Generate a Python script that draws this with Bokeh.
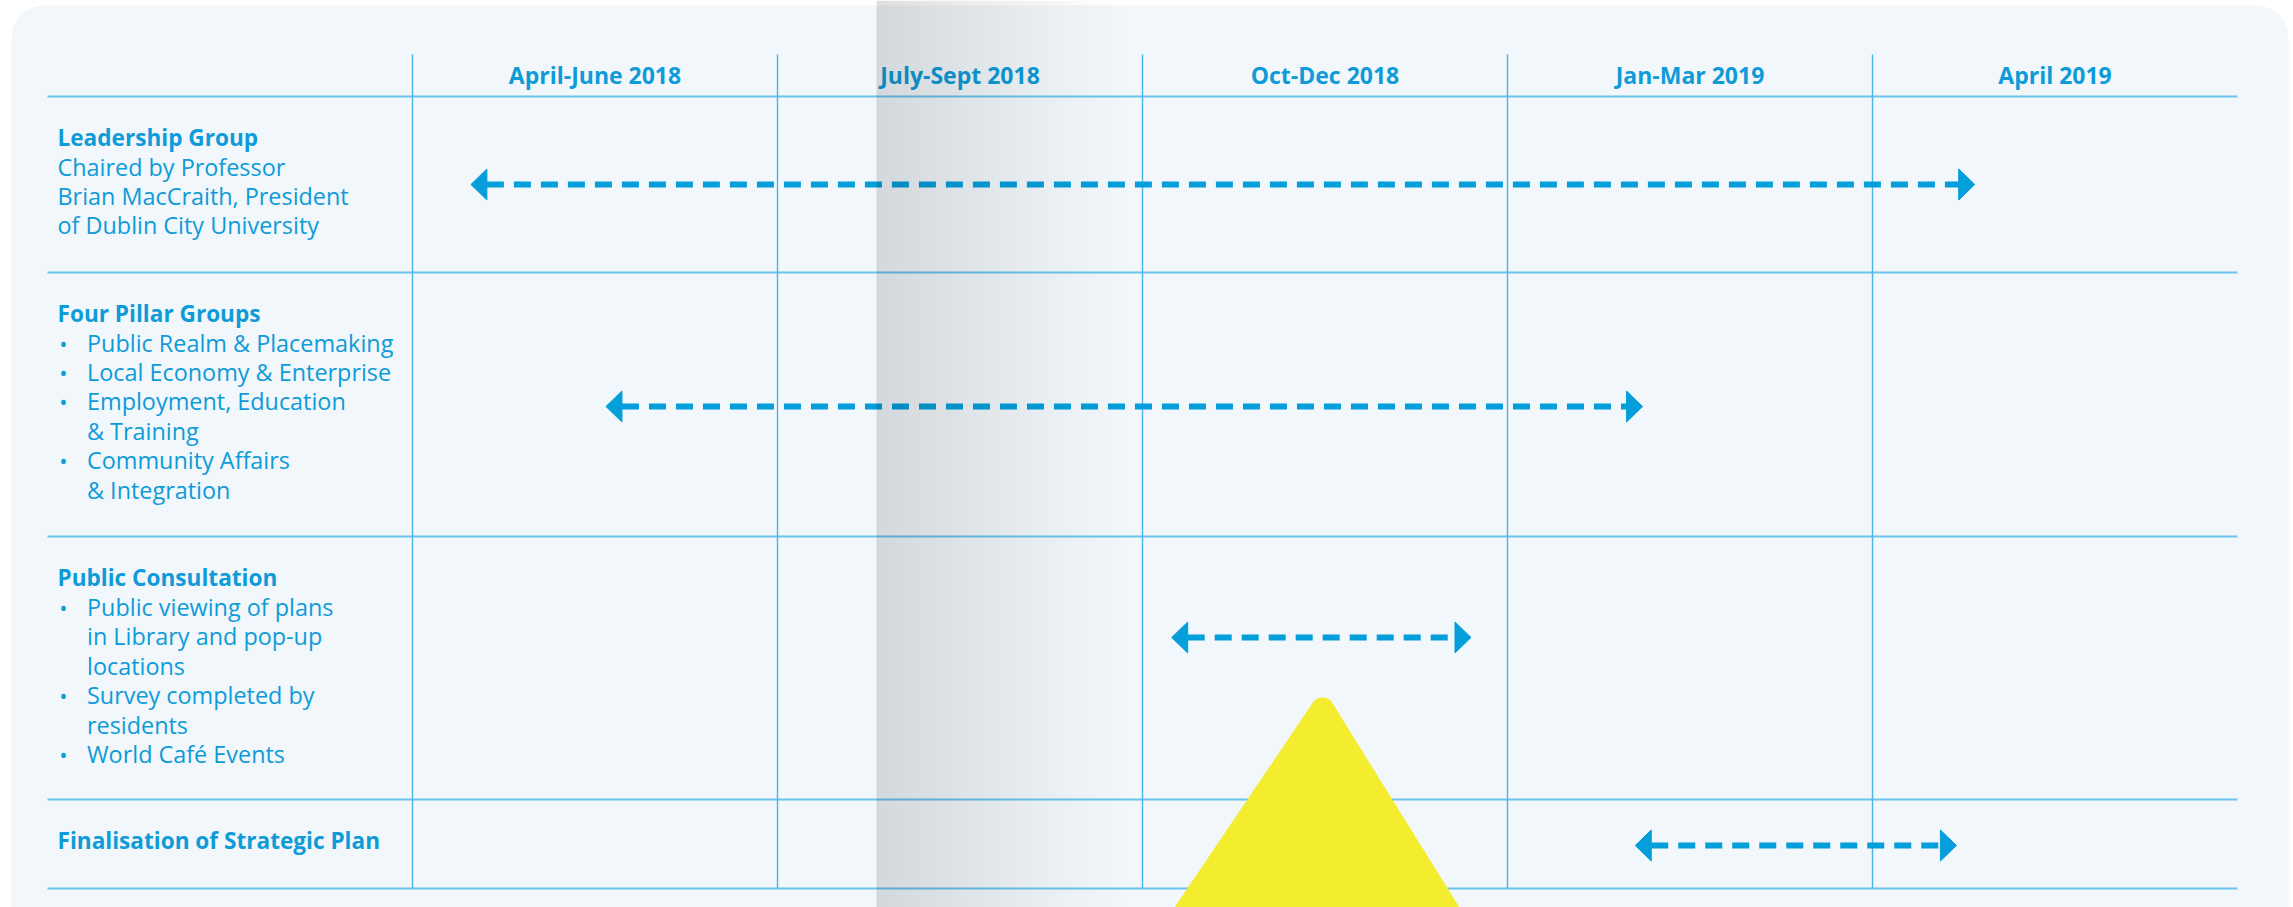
import numpy as np
from bokeh.plotting import figure
from bokeh.models import Range1d, BoxAnnotation
from bokeh.core.properties import value
from bokeh.embed import file_html
from bokeh.resources import INLINE

# ---------------- data ----------------
periods = ["April-June 2018", "July-Sept 2018", "Oct-Dec 2018", "Jan-Mar 2019", "April 2019"]
tasks = ["Leadership Group", "Four Pillar Groups", "Public Consultation",
         "Finalisation of Strategic Plan"]
# arrow spans, in period (quarter) units: 0 = start of April-June 2018
arrow_start = [0.16, 0.53, 2.08, 3.35]
arrow_end = [4.28, 3.37, 2.90, 4.23]
# details text per task: (is_bullet, text)
details_leadership = [(False, "Chaired by Professor"),
                      (False, "Brian MacCraith, President"),
                      (False, "of Dublin City University")]
details_pillars = [(True, "Public Realm & Placemaking"),
                   (True, "Local Economy & Enterprise"),
                   (True, "Employment, Education"),
                   (False, "& Training"),
                   (True, "Community Affairs"),
                   (False, "& Integration")]
details_consult = [(True, "Public viewing of plans"),
                   (False, "in Library and pop-up"),
                   (False, "locations"),
                   (True, "Survey completed by"),
                   (False, "residents"),
                   (True, "World Café Events")]
details_final = []
details = [details_leadership, details_pillars, details_consult, details_final]

# ---------------- layout / style ----------------
W, H = 2293, 907
X0, COLW = 412, 365     # pixel x of period 0, pixel width of a period column
def col(px):
    return (px - X0) / COLW

ROW_EDGES = [96, 272, 536, 799, 888]
HEAD_TOP = 54
TXT_SHIFT = -7.3
HEAD_BASE = 82 + TXT_SHIFT
TITLE_BASE = [v + TXT_SHIFT for v in (144, 320, 584.3, 847.3)]
LINE_H = 29.4
ARROW_Y = [184, 406, 637, 845]

BLUE_TXT = "#0E9BD8"
BLUE_ARR = "#049EDB"
HLINE = "#6CC4EC"
VLINE = "#4AB4E6"
PANEL = "#F1F7FB"
FONT = "Open Sans"

p = figure(width=W, height=H, output_backend="svg", toolbar_location=None,
           x_range=Range1d(col(0), col(W)),
           y_range=Range1d(H, 0),
           x_axis_type=None, y_axis_type=None, min_border=0)
p.grid.visible = False
p.outline_line_color = None
p.background_fill_color = "white"
p.border_fill_color = "white"

# panel
p.add_layout(BoxAnnotation(left=col(11), right=col(2288), top=5, bottom=940,
                           fill_color=PANEL, fill_alpha=1.0, line_color=None,
                           border_radius=32, level="underlay"))

# grid lines
n = len(periods)
p.segment(x0=[-1] * len(ROW_EDGES), x1=[n] * len(ROW_EDGES),
          y0=ROW_EDGES, y1=ROW_EDGES, line_color=HLINE, line_width=2)
p.segment(x0=list(range(n)), x1=list(range(n)), y0=[HEAD_TOP] * n,
          y1=[ROW_EDGES[-1]] * n, line_color=VLINE, line_width=1.4)

# headers
p.text(x=[i + 0.5 for i in range(n)], y=[HEAD_BASE] * n, text=periods,
       text_font=value(FONT), text_font_style="bold", text_font_size="23px",
       text_color=BLUE_TXT, text_align="center", text_baseline="alphabetic")

# row titles
p.text(x=[col(57)] * len(tasks), y=TITLE_BASE, text=tasks,
       text_font=value(FONT), text_font_style="bold", text_font_size="22.6px",
       text_color=BLUE_TXT, text_align="left", text_baseline="alphabetic")

# details
dx, dy, dt, bx, by = [], [], [], [], []
for r, lines in enumerate(details):
    has_b = any(b for b, _ in lines)
    for k, (is_b, t) in enumerate(lines):
        yy = TITLE_BASE[r] + (k + 1) * LINE_H
        dx.append(col(86.5) if has_b else col(57))
        dy.append(yy)
        dt.append(t)
        if is_b:
            bx.append(col(63))
            by.append(yy)
p.text(x=dx, y=dy, text=dt, text_font=value(FONT), text_font_size="23.4px",
       text_color=BLUE_TXT, text_align="left", text_baseline="alphabetic")
p.text(x=bx, y=by, text=["•"] * len(bx), text_font=value(FONT),
       text_font_size="22px", text_color=BLUE_TXT, text_align="center",
       text_baseline="alphabetic")

# arrows
HL = 16 / COLW   # head length (period units)
HW = 15.5        # head half height (px)
xs, ys = [], []
for s, e, y in zip(arrow_start, arrow_end, ARROW_Y):
    xs += [[s, s + HL, s + HL], [e, e - HL, e - HL]]
    ys += [[y, y - HW, y + HW], [y, y - HW, y + HW]]
p.segment(x0=[s + HL for s in arrow_start], x1=[e - HL for e in arrow_end],
          y0=ARROW_Y, y1=ARROW_Y, line_color=BLUE_ARR, line_width=6,
          line_dash="17 10", line_cap="butt")
p.patches(xs=xs, ys=ys, fill_color=BLUE_ARR, line_color=BLUE_ARR, line_width=1)

# yellow triangle (decoration)
apx, apy = 1322, 697
ang = np.linspace(np.pi * 0.76, np.pi * 0.24, 12)
r = 12
tri_x = [1174] + list(apx + r * np.cos(ang)) + [1459]
tri_y = [907] + list(apy + r - r * np.sin(ang)) + [907]
p.patch(x=[col(v) for v in tri_x], y=tri_y, fill_color="#F3EC2F", line_color=None)

# page-fold shadow (decoration)
edges = np.linspace(876, 1136, 66)
left = edges[:-1]
right = edges[1:]
t = (left - 876) / 260.0
alphas = 0.125 * (1 - t) ** 1.2
p.quad(left=[col(v) for v in left], right=[col(v) for v in right],
       top=[0] * len(left), bottom=[920] * len(left),
       fill_color="black", fill_alpha=list(alphas), line_color=None)

open("out.html", "w").write(file_html(p, INLINE))
